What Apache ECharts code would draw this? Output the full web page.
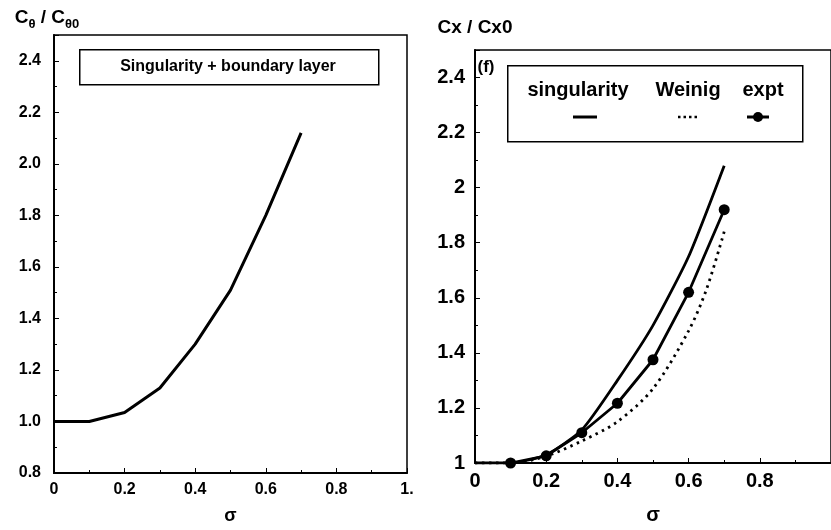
<!DOCTYPE html>
<html>
<head>
<meta charset="utf-8">
<script src="https://cdn.jsdelivr.net/npm/echarts@6/dist/echarts.min.js"></script>
<style>
html,body{margin:0;padding:0;background:#fff;}
#chart{width:831px;height:530px;}
</style>
</head>
<body>
<div id="chart"></div>
<script>
// ---- data ----
const sigmaLeft = [0, 0.1, 0.2, 0.3, 0.4, 0.5, 0.6, 0.7];
const cthetaRatio = [1.0, 1.0, 1.035, 1.13, 1.30, 1.51, 1.80, 2.12];

const sigmaRight = [0, 0.1, 0.2, 0.3, 0.4, 0.5, 0.6, 0.7];
const singularity = [1.0, 1.0, 1.03, 1.12, 1.30, 1.50, 1.75, 2.08];

const sigmaWeinig = [0, 0.1, 0.2, 0.3, 0.4, 0.5, 0.6, 0.65, 0.7];
const weinig = [1.0, 1.0, 1.025, 1.08, 1.15, 1.27, 1.48, 1.63, 1.84];

const sigmaExpt = [0.1, 0.2, 0.3, 0.4, 0.5, 0.6, 0.7];
const expt = [1.0, 1.026, 1.11, 1.217, 1.375, 1.62, 1.92];

const leftYTicksFmt = v => v.toFixed(1);
const leftXTicksFmt = v => (Math.abs(v - 1) < 1e-9 ? '1.' : String(parseFloat(v.toFixed(1))));
const rightTicksFmt = v => String(parseFloat(v.toFixed(1)));

const legendLabels = ['singularity', 'Weinig', 'expt'];
const leftBoxLabel = 'Singularity + boundary layer';

const pair = (xs, ys) => xs.map((x, i) => [x, ys[i]]);

const FONT = 'Liberation Sans, Arial, Helvetica, sans-serif';
const axisCommon = {
  axisLine: {show: true, lineStyle: {color: '#000', width: 2}},
  axisTick: {show: true, inside: true, length: 5, lineStyle: {color: '#000', width: 1}},
  minorTick: {show: true, splitNumber: 2, length: 3, lineStyle: {color: '#000', width: 1}},
  splitLine: {show: false},
};

const chart = echarts.init(document.getElementById('chart'), null, {renderer: 'canvas'});
chart.setOption({
  backgroundColor: '#fff',
  animation: false,
  grid: [
    {left: 54, top: 35, width: 353, height: 444, show: true, borderColor: '#000', borderWidth: 1.5, containLabel: false},
    {left: 475, top: 50, width: 357.5, height: 419, show: true, borderColor: '#000', borderWidth: 1.5, containLabel: false}
  ],
  xAxis: [
    Object.assign({}, axisCommon, {
      gridIndex: 0, type: 'value', min: 0, max: 1, interval: 0.2,
      axisLabel: {formatter: leftXTicksFmt, color: '#000', fontSize: 16, fontWeight: 'bold', fontFamily: FONT, margin: 9},
      name: 'σ', nameLocation: 'middle', nameGap: 34,
      nameTextStyle: {color: '#000', fontSize: 18, fontWeight: 'bold', fontFamily: FONT}
    }),
    Object.assign({}, axisCommon, {
      gridIndex: 1, type: 'value', min: 0, max: 1, interval: 0.2,
      axisLabel: {formatter: rightTicksFmt, color: '#000', fontSize: 20, fontWeight: 'bold', fontFamily: FONT, margin: 8, showMaxLabel: false},
      name: 'σ', nameLocation: 'middle', nameGap: 42,
      nameTextStyle: {color: '#000', fontSize: 20, fontWeight: 'bold', fontFamily: FONT}
    })
  ],
  yAxis: [
    Object.assign({}, axisCommon, {
      gridIndex: 0, type: 'value', min: 0.8, max: 2.5, interval: 0.2,
      axisLabel: {formatter: leftYTicksFmt, color: '#000', fontSize: 16, fontWeight: 'bold', fontFamily: FONT, margin: 13, showMaxLabel: false},
      name: '{m|C}{s|θ}{m| / C}{s|θ0}', nameLocation: 'end', nameGap: 4,
      nameTextStyle: {
        align: 'center', padding: [0, 0, 0, -14],
        rich: {
          m: {fontSize: 19, fontWeight: 'bold', fontFamily: FONT, color: '#000', verticalAlign: 'bottom', lineHeight: 20, padding: [0, 0, 4, 0]},
          s: {fontSize: 13, fontWeight: 'bold', fontFamily: FONT, color: '#000', verticalAlign: 'bottom', lineHeight: 14}
        }
      }
    }),
    Object.assign({}, axisCommon, {
      gridIndex: 1, type: 'value', min: 1, max: 2.5, interval: 0.2,
      axisLabel: {formatter: rightTicksFmt, color: '#000', fontSize: 20, fontWeight: 'bold', fontFamily: FONT, margin: 10, showMaxLabel: false},
      name: 'Cx / Cx0', nameLocation: 'end', nameGap: 13,
      nameTextStyle: {align: 'center', color: '#000', fontSize: 19, fontWeight: 'bold', fontFamily: FONT}
    })
  ],
  series: [
    {
      name: 'C_theta ratio', type: 'line', xAxisIndex: 0, yAxisIndex: 0,
      data: pair(sigmaLeft, cthetaRatio), showSymbol: false, symbol: 'none',
      lineStyle: {color: '#000', width: 3}
    },
    {
      name: legendLabels[0], type: 'line', xAxisIndex: 1, yAxisIndex: 1,
      data: pair(sigmaRight, singularity), symbol: 'none', smooth: 0.2,
      lineStyle: {color: '#000', width: 2.8}
    },
    {
      name: legendLabels[1], type: 'line', xAxisIndex: 1, yAxisIndex: 1,
      data: pair(sigmaWeinig, weinig), symbol: 'none', smooth: 0.3,
      lineStyle: {color: '#000', width: 2.8, type: [2.5, 4.5]}
    },
    {
      name: legendLabels[2], type: 'line', xAxisIndex: 1, yAxisIndex: 1,
      data: pair(sigmaExpt, expt), symbol: 'circle', symbolSize: 11, showSymbol: true,
      itemStyle: {color: '#000'},
      lineStyle: {color: '#000', width: 2.8}
    }
  ],
  graphic: [
    {type: 'rect', left: 79, top: 49, shape: {width: 299, height: 35}, style: {fill: '#fff', stroke: '#000', lineWidth: 1.5}, z: 10},
    {type: 'text', x: 228, y: 67, style: {text: leftBoxLabel, textAlign: 'center', textVerticalAlign: 'middle', fill: '#000', font: 'bold 16px ' + FONT}, z: 11},
    {type: 'text', x: 486, y: 67, style: {text: '(f)', textAlign: 'center', textVerticalAlign: 'middle', fill: '#000', font: 'bold 17px ' + FONT}, z: 11},
    {type: 'rect', left: 507, top: 65, shape: {width: 295, height: 76}, style: {fill: '#fff', stroke: '#000', lineWidth: 1.5}, z: 10},
    {type: 'text', x: 578, y: 90, style: {text: legendLabels[0], textAlign: 'center', textVerticalAlign: 'middle', fill: '#000', font: 'bold 20px ' + FONT}, z: 11},
    {type: 'text', x: 688, y: 90, style: {text: legendLabels[1], textAlign: 'center', textVerticalAlign: 'middle', fill: '#000', font: 'bold 20px ' + FONT}, z: 11},
    {type: 'text', x: 763, y: 90, style: {text: legendLabels[2], textAlign: 'center', textVerticalAlign: 'middle', fill: '#000', font: 'bold 20px ' + FONT}, z: 11},
    {type: 'line', shape: {x1: 573, y1: 117, x2: 597, y2: 117}, style: {stroke: '#000', lineWidth: 3}, z: 11},
    {type: 'line', shape: {x1: 678, y1: 117, x2: 700, y2: 117}, style: {stroke: '#000', lineWidth: 2.5, lineDash: [2.5, 3]}, z: 11},
    {type: 'line', shape: {x1: 747, y1: 117, x2: 769, y2: 117}, style: {stroke: '#000', lineWidth: 3}, z: 11},
    {type: 'circle', shape: {cx: 758, cy: 117, r: 5}, style: {fill: '#000'}, z: 11}
  ]
});
</script>
</body>
</html>
